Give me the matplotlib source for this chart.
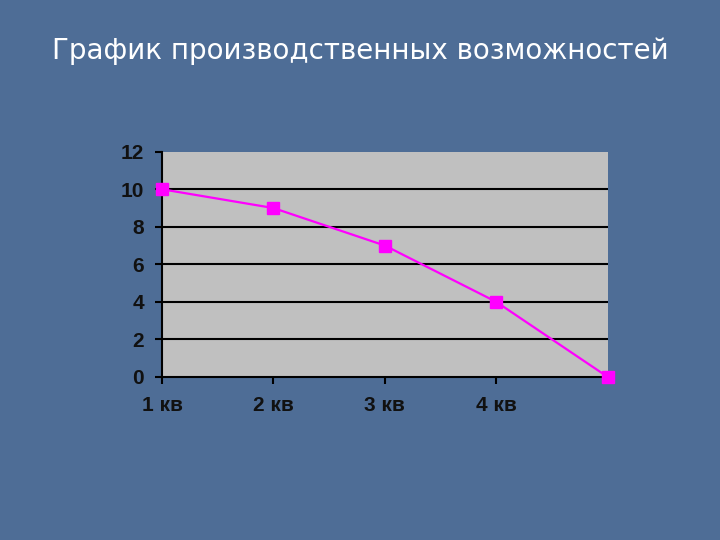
import matplotlib
matplotlib.use("Agg")
import matplotlib.pyplot as plt

# production possibilities by quarter
quarters = ["1 кв", "2 кв", "3 кв", "4 кв", ""]
values = [10, 9, 7, 4, 0]
yticks = [0, 2, 4, 6, 8, 10, 12]

fig = plt.figure(figsize=(7.2, 5.4), dpi=100)
fig.patch.set_facecolor("#4e6d96")

fig.text(0.5, 0.905, "График производственных возможностей", ha="center", va="center",
         color="white", fontsize=20, family="DejaVu Sans")

ax = fig.add_axes([0.225, 0.302, 0.619, 0.417])
ax.set_facecolor("#c0c0c0")

x = list(range(len(values)))
ax.plot(x, values, color="#ff00ff", lw=1.6, marker="s", ms=9, zorder=3, clip_on=False)

ax.set_xlim(0, len(values) - 1)
ax.set_ylim(0, 12)
ax.set_yticks(yticks)
ax.set_xticks(x[:-1])
ax.set_xticklabels(quarters[:-1])
for y in yticks[1:-1]:
    ax.axhline(y, color="black", lw=1.5, zorder=1)

for s in ["top", "right"]:
    ax.spines[s].set_visible(False)
for s in ["left", "bottom"]:
    ax.spines[s].set_color("black")
    ax.spines[s].set_linewidth(1.5)

ax.tick_params(axis="both", direction="out", length=5, width=1.5, colors="black",
               labelsize=15)
ax.tick_params(axis="x", pad=9)
ax.tick_params(axis="y", pad=8)
for lab in ax.get_xticklabels() + ax.get_yticklabels():
    lab.set_fontweight("bold")
    lab.set_family("Liberation Sans")
    lab.set_color("#111111")

fig.savefig("out.png", dpi=100, facecolor=fig.get_facecolor())
